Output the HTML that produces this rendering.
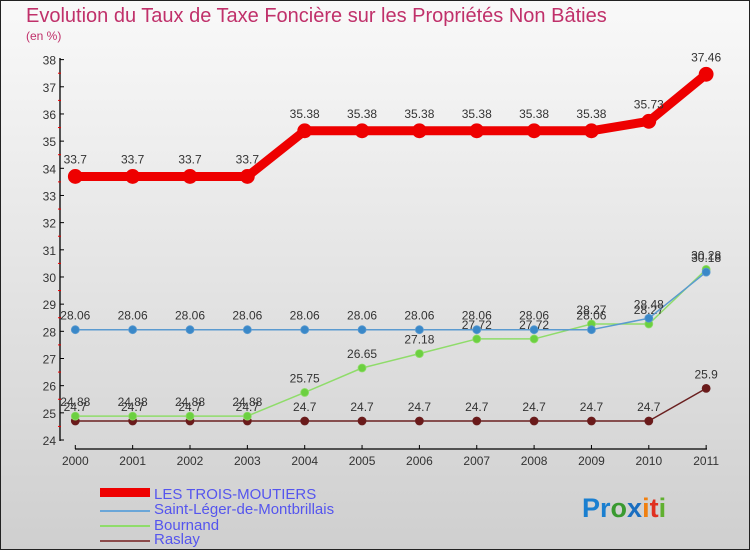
<!DOCTYPE html>
<html><head><meta charset="utf-8"><style>
html,body{margin:0;padding:0}
body{width:750px;height:550px;overflow:hidden;font-family:"Liberation Sans",sans-serif}
</style></head><body>
<svg width="750" height="550" xmlns="http://www.w3.org/2000/svg">
<defs><linearGradient id="bg" x1="0" y1="0" x2="0" y2="1"><stop offset="0" stop-color="#f9f9f9"/><stop offset="1" stop-color="#cfcfcf"/></linearGradient></defs>
<rect x="0.5" y="0.5" width="749" height="549" fill="url(#bg)" stroke="#222"/>
<text x="26" y="22" font-size="20" fill="#c0306a">Evolution du Taux de Taxe Foncière sur les Propriétés Non Bâties</text>
<text x="26" y="40" font-size="12" fill="#c0306a">(en %)</text>
<g id="axes"></g>
<g id="series"></g>
<g id="legend" font-size="15" fill="#5555ee">
<rect x="100" y="488" width="50" height="9" fill="#e00"/>
<text x="154" y="499">LES TROIS-MOUTIERS</text>
<rect x="100" y="510" width="50" height="2" fill="#6aa6d8"/>
<text x="154" y="514">Saint-Léger-de-Montbrillais</text>
<rect x="100" y="525" width="50" height="2" fill="#8fdc6a"/>
<text x="154" y="530">Bournand</text>
<rect x="100" y="540" width="50" height="2" fill="#8b4a4a"/>
<text x="154" y="544">Raslay</text>
</g>
<text x="582" y="517" font-size="27" font-weight="bold"><tspan fill="#1a7fd0">Pr</tspan><tspan fill="#3a9a30">o</tspan><tspan fill="#1a6ec0">x</tspan><tspan fill="#f08010">i</tspan><tspan fill="#e03020">t</tspan><tspan fill="#60b030">i</tspan></text>
</svg>
<script>
const years=[2000,2001,2002,2003,2004,2005,2006,2007,2008,2009,2010,2011];
const yTicks=[24,25,26,27,28,29,30,31,32,33,34,35,36,37,38];
const troisMoutiers=[33.7,33.7,33.7,33.7,35.38,35.38,35.38,35.38,35.38,35.38,35.73,37.46];
const saintLeger=[28.06,28.06,28.06,28.06,28.06,28.06,28.06,28.06,28.06,28.06,28.48,30.18];
const bournand=[24.88,24.88,24.88,24.88,25.75,26.65,27.18,27.72,27.72,28.27,28.27,30.28];
const raslay=[24.7,24.7,24.7,24.7,24.7,24.7,24.7,24.7,24.7,24.7,24.7,25.9];
const NS="http://www.w3.org/2000/svg";
const X=i=>75.3+i*57.35;
const Y=v=>440-(v-24)*27.17;
function mk(tag,attrs,parent,text){const e=document.createElementNS(NS,tag);for(const k in attrs)e.setAttribute(k,attrs[k]);if(text!==undefined)e.textContent=text;parent.appendChild(e);return e;}
const ax=document.getElementById('axes');
let yl=mk('line',{x1:60,y1:58,x2:60,y2:441,stroke:'#000','stroke-width':1.3},ax);


yTicks.forEach(t=>{
 mk('line',{x1:60,y1:Y(t),x2:64,y2:Y(t),stroke:'#000'},ax);
 if(t<38) mk('line',{x1:58,y1:Y(t+0.5),x2:61,y2:Y(t+0.5),stroke:'#e00'},ax);
 const tx=mk('text',{x:56,y:Y(t)+5,'font-size':12,'text-anchor':'end',fill:'#333'},ax,String(t));
 
 
});
let xl=mk('line',{x1:75,y1:449,x2:707,y2:449,stroke:'#000','stroke-width':1.3},ax);


years.forEach((y,i)=>{
 mk('line',{x1:X(i),y1:445,x2:X(i),y2:449,stroke:'#000'},ax);
 const tx=mk('text',{x:X(i),y:465,'font-size':12,'text-anchor':'middle',fill:'#333'},ax,String(y));
 
 
});
const sg=document.getElementById('series');
function fmt(v){return String(v);}
function draw(vals,color,fill,w,r,name){
 const g=mk('g',{},sg);
 
 
 const pl=mk('polyline',{points:vals.map((v,i)=>X(i)+','+Y(v)).join(' '),fill:'none',stroke:color,'stroke-width':w,'stroke-linejoin':'round'},g);
 
 
 vals.forEach((v,i)=>{
  const c=mk('circle',{cx:X(i),cy:Y(v),r:r,fill:fill,stroke:color,'stroke-width':0.8},g);
  
  
  const t=mk('text',{x:X(i),y:Y(v)-(r+6),'font-size':12,'text-anchor':'middle',fill:'#333'},g,fmt(v));
  
  
 });
}
draw(raslay,'#6a2020','#6a1a1a',1.5,4,'raslay');
draw(bournand,'#8fdc6a','#6cd040',1.5,4,'bournand');
draw(saintLeger,'#5a9ad0','#3a88c8',1.5,4,'saint-leger');
draw(troisMoutiers,'#e00','#e00',9,7,'trois-moutiers');
</script>
</body></html>
